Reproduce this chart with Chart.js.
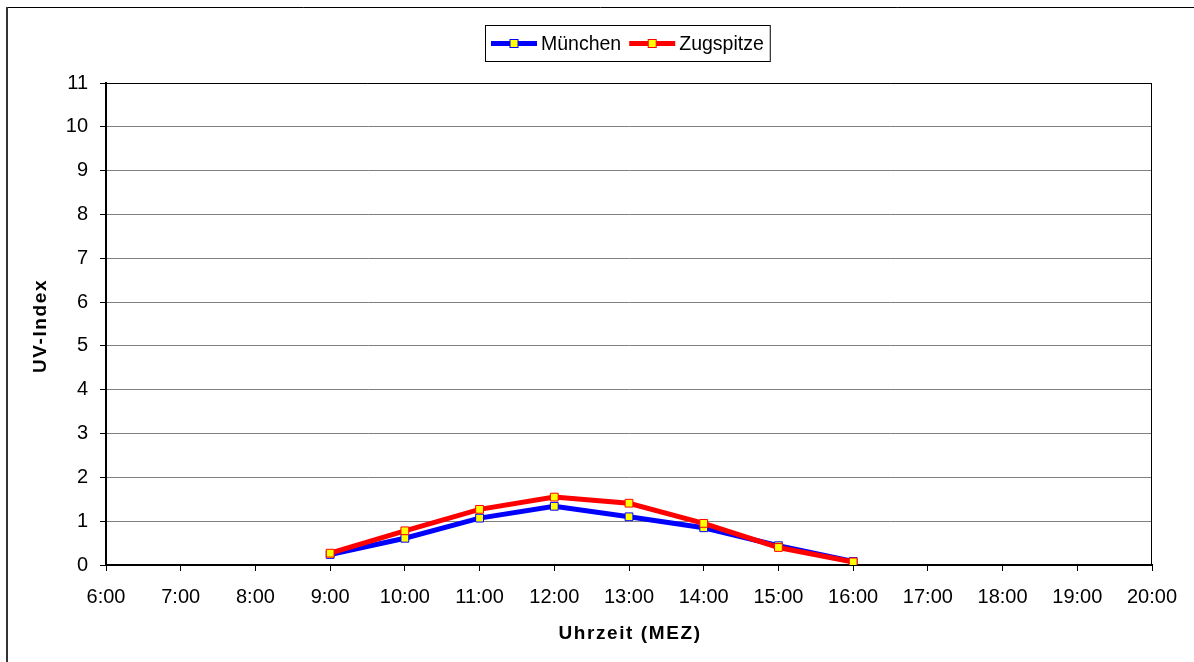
<!DOCTYPE html>
<html lang="de">
<head>
<meta charset="utf-8">
<title>UV-Index München / Zugspitze</title>
<script src="https://cdn.jsdelivr.net/npm/chart.js@4/dist/chart.umd.min.js"></script>
<style>
  html, body { margin: 0; padding: 0; background: #fff; }
  canvas { display: block; }
</style>
</head>
<body>
<canvas id="uv" width="1194" height="662"></canvas>
<script>
// Time axis labels (MEZ)
const timeLabels = ['6:00', '7:00', '8:00', '9:00', '10:00', '11:00', '12:00', '13:00',
                    '14:00', '15:00', '16:00', '17:00', '18:00', '19:00', '20:00'];
// UV index per hour, no measurement outside 9:00–16:00
const muenchen  = [null, null, null, 0.24, 0.61, 1.07, 1.34, 1.10, 0.85, 0.44, 0.08, null, null, null, null];
const zugspitze = [null, null, null, 0.27, 0.78, 1.27, 1.55, 1.41, 0.95, 0.40, 0.07, null, null, null, null];
const seriesNames = ['München', 'Zugspitze'];
const yTitle = 'UV-Index';
const xTitle = 'Uhrzeit (MEZ)';

const FONT = '"Liberation Sans", Arial, sans-serif';

// Frame, axis titles and boxed legend
const decorations = {
  id: 'decorations',
  beforeDraw(chart) {
    const ctx = chart.ctx;
    ctx.save();
    ctx.fillStyle = '#fff';
    ctx.fillRect(0, 0, chart.width, chart.height);
    ctx.strokeStyle = '#000';
    ctx.lineWidth = 1;
    ctx.beginPath();
    ctx.moveTo(7, 7.5); ctx.lineTo(chart.width, 7.5);
    ctx.stroke();
    ctx.strokeStyle = '#333';
    ctx.lineWidth = 2;
    ctx.beginPath();
    ctx.moveTo(7, 7); ctx.lineTo(7, chart.height);
    ctx.stroke();
    ctx.restore();
  },
  afterDatasetsDraw(chart) {
    const ctx = chart.ctx;
    const area = chart.chartArea;
    ctx.save();
    // plot frame
    ctx.strokeStyle = '#000';
    ctx.lineWidth = 1;
    ctx.beginPath();
    ctx.moveTo(area.left, area.top + 0.5); ctx.lineTo(area.right, area.top + 0.5);
    ctx.moveTo(area.right - 0.5, area.top); ctx.lineTo(area.right - 0.5, area.bottom);
    ctx.stroke();
    ctx.restore();
  },
  afterDraw(chart) {
    const ctx = chart.ctx;
    const area = chart.chartArea;
    ctx.save();
    ctx.fillStyle = '#000';
    ctx.textAlign = 'center';
    ctx.textBaseline = 'middle';
    ctx.font = 'bold 19px ' + FONT;
    ctx.letterSpacing = '1.6px';
    // x title
    ctx.fillText(xTitle, (area.left + area.right) / 2 + 1, 634);
    // y title
    ctx.translate(41, (area.top + area.bottom) / 2 + 2);
    ctx.rotate(-Math.PI / 2);
    ctx.fillText(yTitle, 0, 0);
    ctx.restore();

    // legend
    ctx.save();
    ctx.font = '19.5px ' + FONT;
    ctx.textBaseline = 'middle';
    ctx.textAlign = 'left';
    const sample = 46, gapText = 4, gapItem = 8, pad = 6;
    const items = chart.data.datasets.map(ds => ({ ds, w: ctx.measureText(ds.label).width }));
    let total = pad * 2;
    items.forEach((it, i) => { total += sample + gapText + it.w + (i ? gapItem : 0); });
    const boxL = Math.round(627 - total / 2), boxT = 25, boxH = 36;
    ctx.strokeStyle = '#000';
    ctx.lineWidth = 1;
    ctx.strokeRect(boxL + 0.5, boxT + 0.5, total, boxH);
    const cy = boxT + boxH / 2 + 0.5;
    let x = boxL + pad;
    items.forEach((it, i) => {
      if (i) x += gapItem;
      ctx.strokeStyle = it.ds.borderColor;
      ctx.lineWidth = 5;
      ctx.beginPath();
      ctx.moveTo(x, cy); ctx.lineTo(x + sample, cy);
      ctx.stroke();
      ctx.fillStyle = it.ds.pointBackgroundColor;
      ctx.fillRect(x + sample / 2 - 4, cy - 4, 8, 8);
      ctx.lineWidth = 1;
      ctx.strokeRect(x + sample / 2 - 4, cy - 4, 8, 8);
      ctx.fillStyle = '#000';
      ctx.fillText(it.ds.label, x + sample + gapText, cy + 1);
      x += sample + gapText + it.w;
    });
    ctx.restore();
  }
};

new Chart(document.getElementById('uv'), {
  type: 'line',
  data: {
    labels: timeLabels,
    datasets: [
      {
        label: seriesNames[0],
        data: muenchen,
        borderColor: '#0000FF',
        borderWidth: 5,
        pointStyle: 'rect',
        pointRadius: 5.5,
        pointBorderWidth: 1,
        pointBackgroundColor: '#FFFF00',
        pointBorderColor: '#0000FF',
        tension: 0,
        order: 1
      },
      {
        label: seriesNames[1],
        data: zugspitze,
        borderColor: '#FF0000',
        borderWidth: 5,
        pointStyle: 'rect',
        pointRadius: 5.5,
        pointBorderWidth: 1,
        pointBackgroundColor: '#FFFF00',
        pointBorderColor: '#FF0000',
        tension: 0,
        order: 0
      }
    ]
  },
  options: {
    responsive: false,
    animation: false,
    events: [],
    layout: { padding: { top: 83, right: 42, left: 0, bottom: 0 } },
    plugins: {
      legend: { display: false },
      tooltip: { enabled: false },
      title: { display: false }
    },
    scales: {
      x: {
        type: 'category',
        offset: false,
        afterFit(scale) { scale.height = 97; },
        grid: {
          drawOnChartArea: false,
          drawTicks: true,
          tickLength: 6,
          tickColor: '#000',
          color: '#000'
        },
        border: { display: true, color: '#000', width: 2 },
        ticks: {
          color: '#000',
          font: { family: FONT, size: 20 },
          padding: 14,
          maxRotation: 0,
          autoSkip: false
        }
      },
      y: {
        min: 0,
        max: 11,
        afterFit(scale) { scale.width = 106; },
        grid: {
          color: '#808080',
          lineWidth: 1,
          tickLength: 6,
          tickColor: '#000'
        },
        border: { display: true, color: '#000', width: 2 },
        ticks: {
          stepSize: 1,
          color: '#000',
          font: { family: FONT, size: 20 },
          padding: 12
        }
      }
    }
  },
  plugins: [decorations]
});
</script>
</body>
</html>
